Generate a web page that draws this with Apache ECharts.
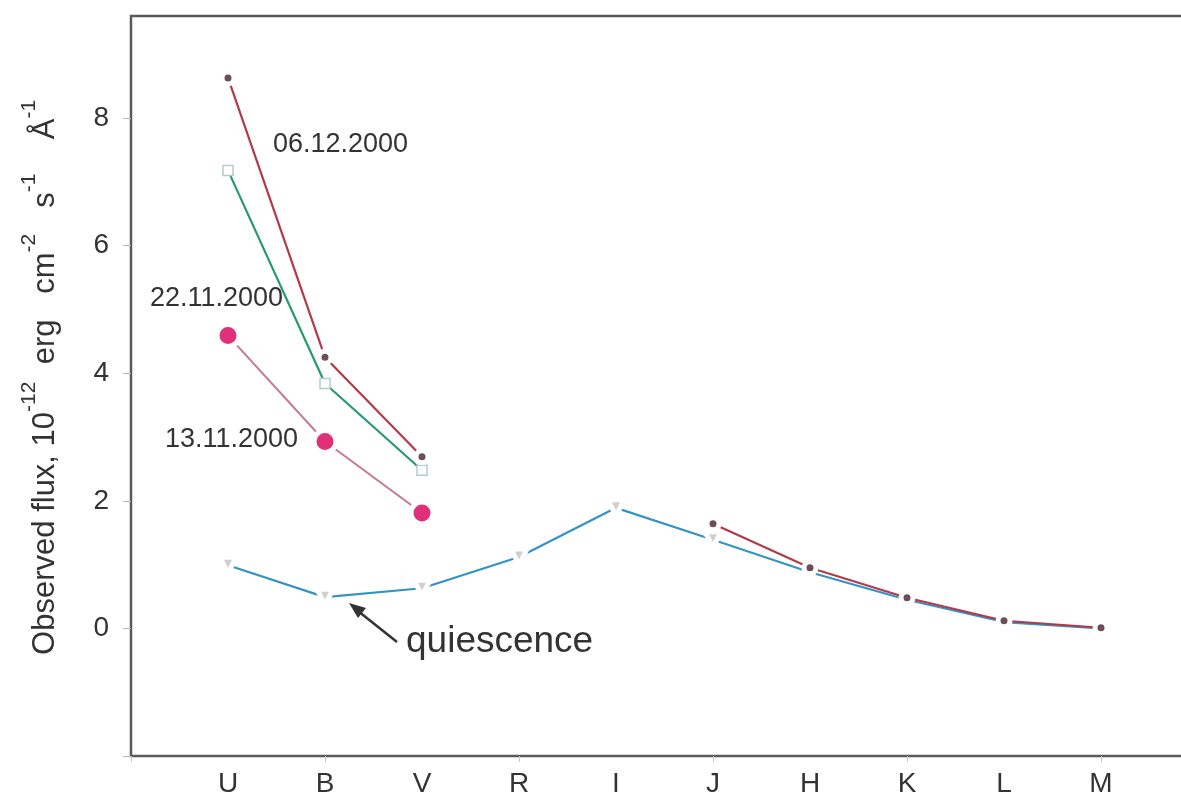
<!DOCTYPE html>
<html>
<head>
<meta charset="utf-8">
<script src="https://cdn.jsdelivr.net/npm/echarts@6/dist/echarts.min.js"></script>
<style>
html,body{margin:0;padding:0;background:#fff;}
#chart{width:1181px;height:806px;}
</style>
</head>
<body>
<div id="chart"></div>
<script>
// Photometric bands (x categories)
const bands = ['U', 'B', 'V', 'R', 'I', 'J', 'H', 'K', 'L', 'M'];
// Y tick values
const yTicks = [-2, 0, 2, 4, 6, 8];
// Observed flux, 1e-12 erg cm^-2 s^-1 A^-1
const flux_06_12_2000 = [8.63, 4.25, 2.69, null, null, 1.64, 0.95, 0.48, 0.12, 0.01];
const flux_22_11_2000 = [7.18, 3.84, 2.48, null, null, null, null, null, null, null];
const flux_13_11_2000 = [4.59, 2.93, 1.81, null, null, null, null, null, null, null];
const flux_quiescence = [0.99, 0.49, 0.63, 1.12, 1.89, 1.39, 0.88, 0.45, 0.10, 0.00];

const FONT = '"Liberation Sans", Arial, Helvetica, sans-serif';
const toPairs = arr => arr.map((v, i) => [i, v]);

const chart = echarts.init(document.getElementById('chart'), null, {renderer: 'canvas'});

const option = {
  backgroundColor: '#fff',
  animation: false,
  grid: {
    left: 131, top: 16, bottom: 50, right: -17,
    containLabel: false,
    outerBoundsMode: 'none',
    show: true, borderColor: '#5a5a5a', borderWidth: 2.5, backgroundColor: 'transparent'
  },
  xAxis: [{
    type: 'value', min: -1, max: 10, interval: 1,
    axisLine: {show: false, onZero: false},
    axisTick: {show: false},
    splitLine: {show: false},
    axisLabel: {
      margin: 14, fontSize: 28, color: '#333', fontFamily: FONT,
      showMinLabel: true, showMaxLabel: true,
      formatter: v => (bands[v] !== undefined ? bands[v] : '')
    }
  }, {
    type: 'value', min: -1, max: 10, interval: 2, position: 'bottom',
    axisLine: {show: false, onZero: false},
    axisTick: {show: true, length: 6, lineStyle: {color: '#c8c8c8', width: 1}},
    splitLine: {show: false},
    axisLabel: {show: false}
  }],
  yAxis: {
    type: 'value', min: yTicks[0], max: 9.6, interval: 2,
    axisLine: {show: false, onZero: false},
    axisTick: {show: true, inside: false, length: 8, lineStyle: {color: '#bbb', width: 1}},
    splitLine: {show: false},
    axisLabel: {
      margin: 22, fontSize: 28, color: '#333', fontFamily: FONT,
      showMaxLabel: false,
      formatter: v => (yTicks.indexOf(v) > 0 ? String(v) : '')
    },
    name: '{n|  Observed flux, 10}{s|-12}{n|  erg   cm}{s|-2}{n|   s}{s|-1}{n|    Å}{s|-1}',
    nameLocation: 'middle',
    nameRotate: 90,
    nameGap: 70,
    nameTextStyle: {
      fontFamily: FONT, color: '#333',
      rich: {
        n: {fontSize: 31, lineHeight: 42, verticalAlign: 'bottom', fontFamily: FONT, color: '#333'},
        s: {fontSize: 21, lineHeight: 42, verticalAlign: 'top', fontFamily: FONT, color: '#333'}
      }
    }
  },
  series: [
    {
      name: 'quiescence', type: 'line', data: toPairs(flux_quiescence),
      symbol: 'triangle', symbolRotate: 180, symbolSize: 16,
      itemStyle: {color: '#cfcfcf', borderColor: '#fff', borderWidth: 5},
      lineStyle: {color: '#3394c4', width: 2.2},
      z: 2
    },
    {
      name: '13.11.2000', type: 'line', data: toPairs(flux_13_11_2000),
      symbol: 'circle', symbolSize: 22,
      itemStyle: {color: '#e0307a', borderColor: '#fff', borderWidth: 5},
      lineStyle: {color: '#c87890', width: 2},
      z: 3
    },
    {
      name: '22.11.2000', type: 'line', data: toPairs(flux_22_11_2000),
      symbol: 'rect', symbolSize: 10,
      itemStyle: {color: '#fff', borderColor: '#b5cccd', borderWidth: 1.5},
      lineStyle: {color: '#279a6a', width: 2.2},
      z: 4
    },
    {
      name: '06.12.2000', type: 'line', data: toPairs(flux_06_12_2000),
      symbol: 'circle', symbolSize: 12,
      itemStyle: {color: '#6e4d5a', borderColor: '#fff', borderWidth: 5},
      lineStyle: {color: '#b23a4a', width: 2.2},
      z: 5
    }
  ],
  graphic: [
    {type: 'text', left: 273, top: 131, style: {text: '06.12.2000', font: '27px ' + FONT, fill: '#333'}, z: 10},
    {type: 'text', left: 150, top: 285, style: {text: '22.11.2000', font: '27px ' + FONT, fill: '#333'}, z: 10},
    {type: 'text', left: 165, top: 426, style: {text: '13.11.2000', font: '27px ' + FONT, fill: '#333'}, z: 10},
    {type: 'text', left: 406, top: 623, style: {text: 'quiescence', font: '37px ' + FONT, fill: '#333'}, z: 10},
    {type: 'line', shape: {x1: 397, y1: 642, x2: 358, y2: 611}, style: {stroke: '#333', lineWidth: 2.5}, z: 10},
    {type: 'polygon', shape: {points: [[349, 603], [366, 608], [358, 618]]}, style: {fill: '#333'}, z: 10}
  ]
};
chart.setOption(option);
</script>
</body>
</html>
